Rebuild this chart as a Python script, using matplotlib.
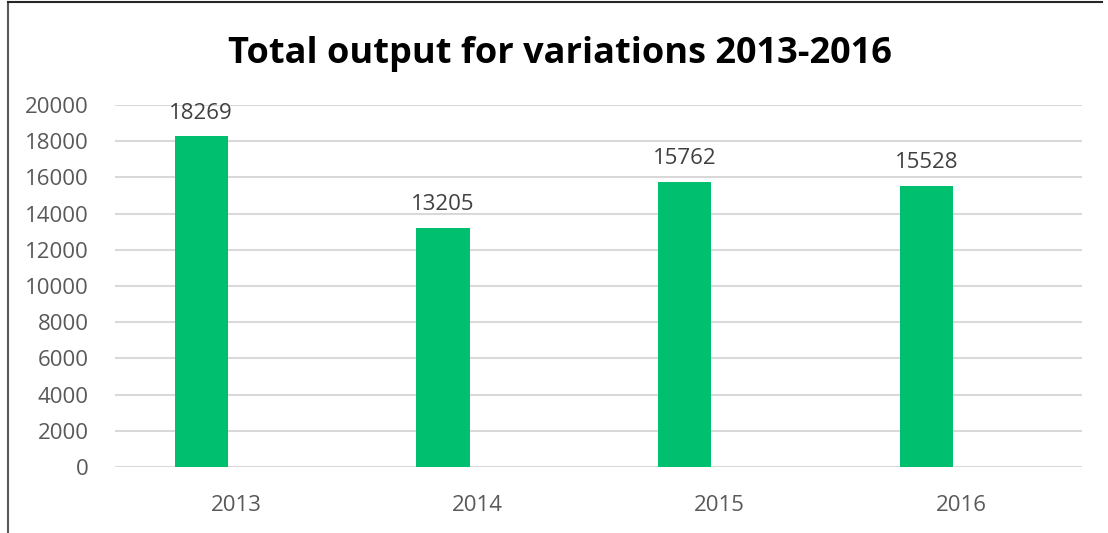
import matplotlib
matplotlib.use('Agg')
import matplotlib.pyplot as plt
import numpy as np
from matplotlib.lines import Line2D

# data
years = ['2013', '2014', '2015', '2016']
output = [18269, 13205, 15762, 15528]
y_ticks = [0, 2000, 4000, 6000, 8000, 10000, 12000, 14000, 16000, 18000, 20000]

plt.rcParams['font.family'] = ['Open Sans', 'DejaVu Sans']

fig = plt.figure(figsize=(11.08, 5.33), dpi=100)
ax = fig.add_axes([0.1038, 0.1238, 0.8727, 0.6792])

x = np.arange(len(years))
bars = ax.bar(x - 0.143, output, width=0.22, color='#00BF6F', zorder=3)

for b, v in zip(bars, output):
    ax.annotate(str(v), (b.get_x() + b.get_width() / 2, v), xytext=(0, 9),
                textcoords='offset points', ha='center', va='bottom',
                fontsize=16, color='#404040')

ax.set_xlim(-0.5, len(years) - 0.5)
ax.set_ylim(0, 20000)
ax.set_yticks(y_ticks)
ax.set_yticklabels([str(t) for t in y_ticks])
ax.set_xticks(x)
ax.set_xticklabels(years)
ax.tick_params(axis='both', length=0, labelsize=16, labelcolor='#595959')
ax.tick_params(axis='y', pad=19)
ax.tick_params(axis='x', pad=20)
ax.yaxis.grid(True, color='#D9D9D9', linewidth=1.5, zorder=0)
for s in ax.spines.values():
    s.set_visible(False)

fig.text(0.505, 0.899, 'Total output for variations 2013-2016', ha='center', va='center',
         fontsize=26, fontweight='bold', color='black')

# chart area border (left and top edges visible in the crop)
fig.add_artist(Line2D([8 / 1108, 8 / 1108], [0, 1 - 2 / 533], color='#595959', linewidth=1.5))
fig.add_artist(Line2D([8 / 1108, 1102 / 1108], [1 - 2 / 533, 1 - 2 / 533], color='#262626', linewidth=1.5))

fig.savefig('out.png', dpi=100)
